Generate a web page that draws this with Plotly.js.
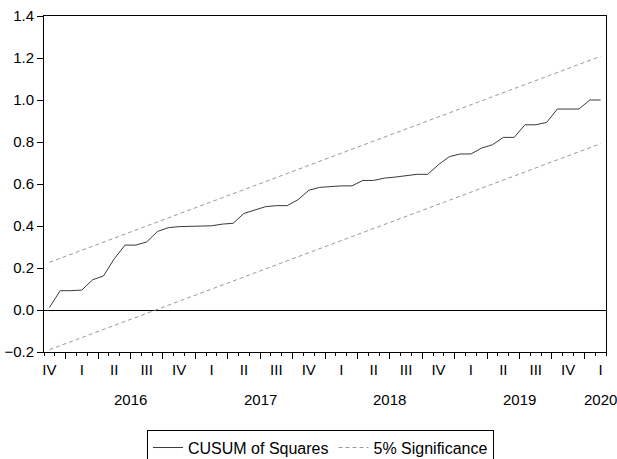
<!DOCTYPE html>
<html>
<head>
<meta charset="utf-8">
<script src="https://cdn.plot.ly/plotly-3.0.1.min.js"></script>
<style>html,body{margin:0;padding:0;background:#fff;}#chart{width:617px;height:459px;}</style>
</head>
<body>
<div id="chart"></div>
<script>
// Monthly observations 2015M11 .. 2020M02 (index 0..51)
var obsIndex = [0,1,2,3,4,5,6,7,8,9,10,11,12,13,14,15,16,17,18,19,20,21,22,23,24,25,
  26,27,28,29,30,31,32,33,34,35,36,37,38,39,40,41,42,43,44,45,46,47,48,49,50,51];
var cusumSq = [0.012,0.092,0.092,0.095,0.144,0.162,0.244,0.309,0.309,0.324,0.374,0.392,0.397,
  0.398,0.400,0.401,0.409,0.413,0.460,0.476,0.492,0.497,0.497,0.525,0.570,0.584,
  0.589,0.591,0.591,0.617,0.617,0.628,0.633,0.638,0.646,0.646,0.692,0.730,0.743,
  0.743,0.771,0.787,0.822,0.822,0.882,0.882,0.893,0.957,0.957,0.957,1.000,1.000];
// 5% significance bounds (straight lines between first and last observation)
var boundIndex = [0, 51];
var upperBound = [0.227, 1.208];
var lowerBound = [-0.189, 0.792];

// Quarter labels (placed at the middle month of each quarter)
var quarterPos = [0,3,6,9,12,15,18,21,24,27,30,33,36,39,42,45,48,51];
var quarterText = ["IV","I","II","III","IV","I","II","III","IV","I","II","III","IV","I","II","III","IV","I"];
// Quarter boundaries (major ticks)
var quarterBounds = [1.5,4.5,7.5,10.5,13.5,16.5,19.5,22.5,25.5,28.5,31.5,34.5,37.5,40.5,43.5,46.5,49.5];
// Year labels
var yearPos = [7.5, 19.5, 31.5, 43.5, 51];
var yearText = ["2016","2017","2018","2019","2020"];

var FONT = "Liberation Sans, Arial, sans-serif";
var xr = [-0.5, 51.5];

var traces = [
  {x: obsIndex, y: cusumSq, type: "scatter", mode: "lines", name: "CUSUM of Squares",
   line: {color: "#3a3a3a", width: 1}},
  {x: boundIndex, y: upperBound, type: "scatter", mode: "lines", name: "5% Significance",
   xaxis: "x2", line: {color: "#9a9a9a", width: 1, dash: "4px,3px"}},
  {x: boundIndex, y: lowerBound, type: "scatter", mode: "lines", name: "lower",
   xaxis: "x2", showlegend: false, line: {color: "#9a9a9a", width: 1, dash: "4px,3px"}}
];

var annotations = yearText.map(function(t, k) {
  return {x: yearPos[k], y: -0.142, xref: "x", yref: "paper", text: t, showarrow: false,
          xanchor: "center", yanchor: "middle", font: {family: FONT, size: 15, color: "#000"}};
});

var layout = {
  width: 617, height: 459,
  margin: {l: 44, r: 11, t: 16, b: 107},
  paper_bgcolor: "#fff", plot_bgcolor: "#fff",
  font: {family: FONT, size: 15, color: "#000"},
  showlegend: true,
  xaxis: {
    range: xr, tickmode: "array", tickvals: quarterPos, ticktext: quarterText,
    ticks: "", showgrid: false, zeroline: false,
    showline: true, linecolor: "#000", linewidth: 1, mirror: true,
    tickfont: {family: FONT, size: 15, color: "#000"}, ticklabelstandoff: 4
  },
  xaxis2: {
    range: xr, overlaying: "x", anchor: "y", side: "bottom",
    tickmode: "array", tickvals: quarterBounds, showticklabels: false,
    ticks: "outside", ticklen: 6, tickcolor: "#000", tickwidth: 1,
    showgrid: false, zeroline: false, showline: false,
    minor: {tickmode: "linear", tick0: -0.5, dtick: 1, ticks: "outside", ticklen: 3, tickcolor: "#000", tickwidth: 1, showgrid: false}
  },
  yaxis: {
    range: [-0.2, 1.4], tickmode: "linear", tick0: -0.2, dtick: 0.2, tickformat: ".1f",
    ticks: "outside", ticklen: 6, tickcolor: "#000",
    showgrid: false, zeroline: true, zerolinecolor: "#000", zerolinewidth: 1,
    showline: true, linecolor: "#000", linewidth: 1, mirror: true,
    tickfont: {family: FONT, size: 15, color: "#000"}
  },
  legend: {
    orientation: "h", x: 0.492, xanchor: "center",
    yref: "container", y: 0.064, yanchor: "top",
    bordercolor: "#000", borderwidth: 1, bgcolor: "#fff",
    font: {family: FONT, size: 16, color: "#000"}, itemwidth: 30
  },
  annotations: annotations
};

Plotly.newPlot("chart", traces, layout, {displayModeBar: false, staticPlot: true});
</script>
</body>
</html>
